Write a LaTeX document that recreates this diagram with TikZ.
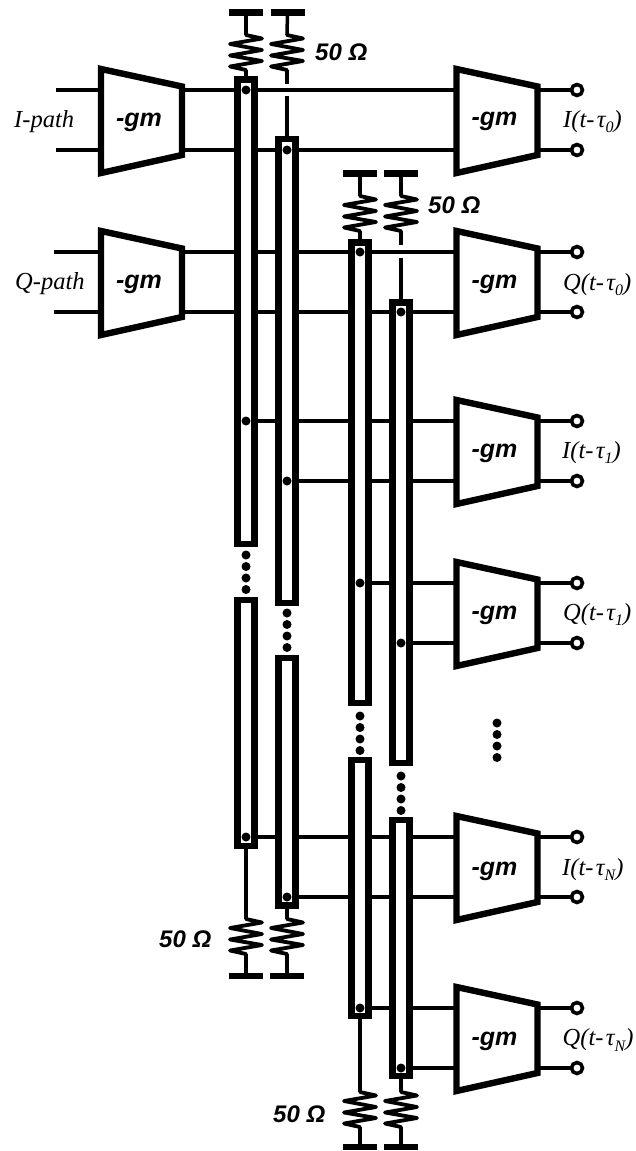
\documentclass[tikz,border=0pt]{standalone}
\usepackage{fontspec}
\setmainfont{Liberation Serif}
\newfontfamily\labsans{Liberation Sans}
\tikzset{
  x=1pt,y=-1pt,
  wire/.style={line width=3.5pt,line join=round},
  ampline/.style={line width=6.4pt,line join=miter,miter limit=10},
  tlbox/.style={draw,fill=white,line width=6.8pt,minimum width=16.6pt,inner sep=0pt,outer sep=0pt},
  zig/.style={line width=3.8pt,line join=round,line cap=round},
  gndbar/.style={fill=black,minimum width=34pt,minimum height=6.5pt,inner sep=0pt,outer sep=0pt},
  tapdot/.style={circle,fill=black,minimum size=9pt,inner sep=0pt,outer sep=0pt},
  term/.style={circle,draw,fill=white,line width=3.6pt,minimum size=11pt,inner sep=0pt,outer sep=0pt},
  gmtxt/.style={anchor=base,font=\labsans\bfseries\itshape\fontsize{25}{27}\selectfont,inner sep=0pt},
  ohm/.style={anchor=base west,font=\labsans\bfseries\itshape\fontsize{24}{26}\selectfont,inner sep=0pt},
  lab/.style={anchor=base west,font=\itshape\fontsize{24.5}{28}\selectfont,inner sep=0pt},
}
% amplifier: name, left x, centre y, text baseline offset
\newcommand{\ampbox}[4]{%
  \draw[ampline] ({#2},{#3-51}) -- ({#2+81},{#3-33.5}) -- ({#2+81},{#3+35}) -- ({#2},{#3+53}) -- cycle;
  \coordinate (#1-i1) at ({#2},{#3-30});
  \coordinate (#1-i2) at ({#2},{#3+30});
  \coordinate (#1-o1) at ({#2+81},{#3-30});
  \coordinate (#1-o2) at ({#2+81},{#3+30});
  \node[gmtxt] (#1) at ({#2+38},{#3+#4}) {-gm};
}
% line segment box: name, x, top, bottom
\newcommand{\tline}[4]{%
  \node[tlbox,minimum height={(#4-#3)*1pt}] (#1) at (#2,{(#3+#4)/2}) {};
}
% resistor zigzag: name, x, start y
\newcommand{\zigres}[3]{%
  \coordinate (#1-a) at (#2,#3);
  \coordinate (#1-b) at (#2,{#3+35});
  \draw[zig] (#1-a) -- ++(16,3.5) -- ++(-32,5.5) -- ++(32,6) -- ++(-32,5.5) -- ++(32,5.5) -- ++(-32,5.5) -- (#1-b);
}
% vertical dots: name, x, first y
\newcommand{\dotrow}[3]{%
  \node[tapdot] (#1-1) at (#2,#3) {};
  \node[tapdot] (#1-2) at (#2,{#3+11.5}) {};
  \node[tapdot] (#1-3) at (#2,{#3+23}) {};
  \node[tapdot] (#1-4) at (#2,{#3+34.5}) {};
}
\begin{document}
\begin{tikzpicture}
\useasboundingbox (0,0) rectangle (635,1151);
% amplifiers
\ampbox{L0}{101}{120}{6.5}
\ampbox{L1}{101}{282}{6.5}
\ampbox{R0}{456.5}{120}{5.5}
\ampbox{R1}{456.5}{282}{6}
\ampbox{R2}{456.5}{451}{6.7}
\ampbox{R3}{456.5}{613}{6.7}
\ampbox{R4}{456.5}{867}{8}
\ampbox{R5}{456.5}{1038}{7.7}
% tap points
\coordinate (p0) at (246,90);
\coordinate (p1) at (287,150);
\coordinate (p2) at (360,252);
\coordinate (p3) at (401,312);
\coordinate (p4) at (246,421);
\coordinate (p5) at (287,481);
\coordinate (p6) at (360,583);
\coordinate (p7) at (401,643);
\coordinate (p8) at (246,837);
\coordinate (p9) at (287,897);
\coordinate (p10) at (360,1008);
\coordinate (p11) at (401,1068);
% input leads
\coordinate (in0) at (56,90);
\coordinate (in1) at (56,150);
\coordinate (in2) at (54,252);
\coordinate (in3) at (54,312);
\draw[wire] (in0) -- (L0-i1);
\draw[wire] (in1) -- (L0-i2);
\draw[wire] (in2) -- (L1-i1);
\draw[wire] (in3) -- (L1-i2);
% signal wires
\draw[wire] (L0-o1) -- (R0-i1);
\draw[wire] (L0-o2) -- (R0-i2);
\draw[wire] (L1-o1) -- (R1-i1);
\draw[wire] (L1-o2) -- (R1-i2);
\draw[wire] (p4) -- (R2-i1);
\draw[wire] (p5) -- (R2-i2);
\draw[wire] (p6) -- (R3-i1);
\draw[wire] (p7) -- (R3-i2);
\draw[wire] (p8) -- (R4-i1);
\draw[wire] (p9) -- (R4-i2);
\draw[wire] (p10) -- (R5-i1);
\draw[wire] (p11) -- (R5-i2);
% outputs
\foreach \a in {R0,R1,R2,R3,R4,R5}{
  \draw[wire] (\a-o1) -- (577,0 |- \a-o1);
  \draw[wire] (\a-o2) -- (577,0 |- \a-o2);
  \node[term] (\a-t1) at (577,0 |- \a-o1) {};
  \node[term] (\a-t2) at (577,0 |- \a-o2) {};
}
% resistors
\zigres{ra}{246}{35}
\zigres{rb}{287}{35}
\zigres{rc}{360}{196}
\zigres{rd}{401}{196}
\zigres{re}{246}{919}
\zigres{rf}{287}{919}
\zigres{rg}{360}{1092}
\zigres{rh}{401}{1092}
\node[gndbar] (ga) at (246,12.5) {};
\node[gndbar] (gb) at (287.5,12.5) {};
\node[gndbar] (gc) at (360,173.7) {};
\node[gndbar] (gd) at (401,173.7) {};
\node[gndbar] (ge) at (246,976) {};
\node[gndbar] (gf) at (287,976) {};
\node[gndbar] (gg) at (360,1147) {};
\node[gndbar] (gh) at (401,1147) {};
\draw[wire] (ga) -- (ra-a);
\draw[wire] (gb) -- (rb-a);
\draw[wire] (gc) -- (rc-a);
\draw[wire] (gd) -- (rd-a);
\draw[wire] (re-b) -- (ge);
\draw[wire] (rf-b) -- (gf);
\draw[wire] (rg-b) -- (gg);
\draw[wire] (rh-b) -- (gh);
% transmission lines
\tline{ta1}{246}{79.5}{544}
\tline{ta2}{246}{600}{846}
\tline{tb1}{287}{139}{603}
\tline{tb2}{287}{658}{905.5}
\tline{tc1}{360}{242.5}{703}
\tline{tc2}{360}{760}{1016}
\tline{td1}{401}{302.5}{763}
\tline{td2}{401}{820}{1076}
% links resistor to line
\draw[wire] (ra-b) -- (ta1.north);
\coordinate (gb1) at (287,84);
\coordinate (gb2) at (287,95.5);
\draw[wire] (rb-b) -- (gb1);
\draw[wire] (gb2) -- (tb1.north);
\draw[wire] (rc-b) -- (tc1.north);
\coordinate (gd1) at (401,245);
\coordinate (gd2) at (401,258);
\draw[wire] (rd-b) -- (gd1);
\draw[wire] (gd2) -- (td1.north);
\draw[wire] (ta2.south) -- (re-a);
\draw[wire] (tb2.south) -- (rf-a);
\draw[wire] (tc2.south) -- (rg-a);
\draw[wire] (td2.south) -- (rh-a);
% tap dots
\foreach \i in {0,...,11}{ \node[tapdot] (dot\i) at (p\i) {}; }
% continuation dots
\dotrow{da}{246}{555}
\dotrow{db}{287}{613}
\dotrow{dc}{360}{716}
\dotrow{dd}{401}{776}
\dotrow{de}{497}{723}
% labels
\node[ohm] (o1) at (315,60) {50 Ω};
\node[ohm] (o2) at (428,213) {50 Ω};
\node[ohm] (o3) at (159,947) {50 Ω};
\node[ohm] (o4) at (273,1122) {50 Ω};
\node[lab] (l1) at (14,127) {I-path};
\node[lab] (l2) at (15,289) {Q-path};
\newcommand{\sbs}[1]{\raisebox{-0.22em}{\fontsize{16}{16}\selectfont #1}}
\newcommand{\gp}{\hspace{0.1em}}
\node[lab] (q0) at (563,127.3) {I(t-\gp τ\sbs{0})};
\node[lab] (q1) at (563,290) {Q(t-\gp τ\sbs{0})};
\node[lab] (q2) at (562,458) {I(t-\gp τ\sbs{1})};
\node[lab] (q3) at (563,620) {Q(t-\gp τ\sbs{1})};
\node[lab] (q4) at (562,875) {I(t-\gp τ\sbs{N})};
\node[lab] (q5) at (562.5,1045.7) {Q(t-\gp τ\sbs{N})};
\end{tikzpicture}
\end{document}
